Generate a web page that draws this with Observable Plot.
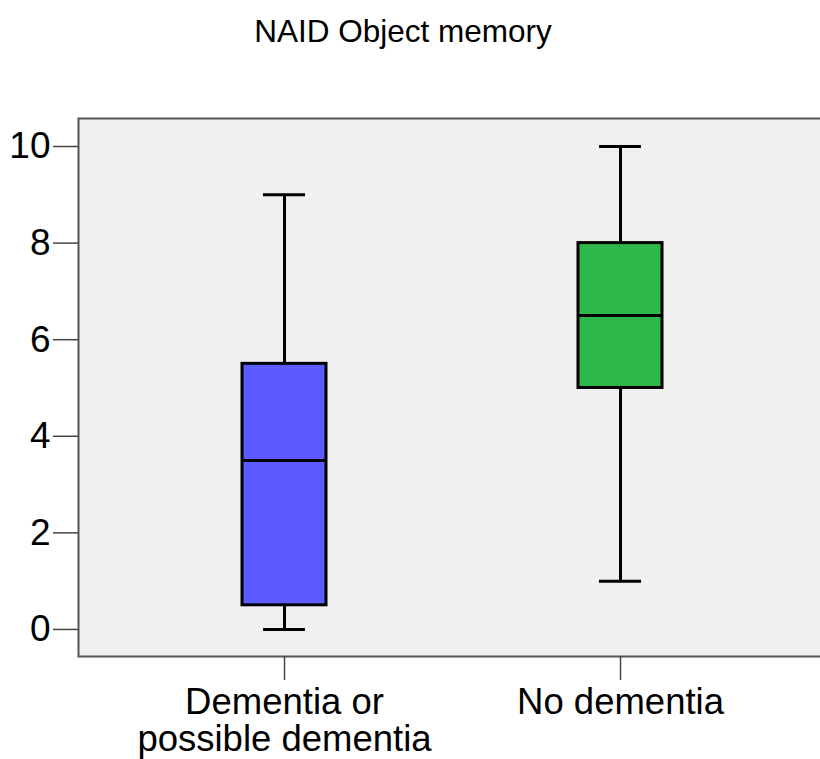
<!DOCTYPE html>
<html>
<head>
<meta charset="utf-8">
<script src="https://cdn.jsdelivr.net/npm/d3@7"></script>
<script src="https://cdn.jsdelivr.net/npm/@observablehq/plot@0.6"></script>
<style>
  html, body { margin: 0; padding: 0; background: #fff; overflow: hidden; width: 820px; height: 759px; }
  #title { height: 60px; line-height: 62px; width: 806px; text-align: center;
           font-family: "Liberation Sans", Arial, sans-serif; font-size: 31.5px; color: #000; }
</style>
</head>
<body>
<div id="title">NAID Object memory</div>
<div id="chart"></div>
<script>
const groups = ["Dementia or possible dementia", "No dementia"];
const groupLabels = ["Dementia or\npossible dementia", "No dementia"];
const whiskerLow = [0, 1];
const q1 = [0.5, 5];
const median = [3.5, 6.5];
const q3 = [5.5, 8];
const whiskerHigh = [9, 10];
const fills = ["#5b5bff", "#2db84a"];
const yTicks = [0, 2, 4, 6, 8, 10];

const data = groups.map((g, i) => ({
  group: g, lo: whiskerLow[i], q1: q1[i], med: median[i], q3: q3[i], hi: whiskerHigh[i], fill: fills[i]
}));

const plot = Plot.plot({
  width: 826,
  height: 699,
  marginLeft: 78,
  marginRight: 0,
  marginTop: 58,
  marginBottom: 103,
  style: { fontFamily: "'Liberation Sans', Arial, sans-serif", background: "#fff", maxWidth: "none", overflow: "visible" },
  x: { domain: groups, paddingInner: 0.75, paddingOuter: 0.488, label: null },
  y: { domain: [-0.56, 10.58], label: null },
  marks: [
    Plot.frame({ fill: "#f0f0f0", stroke: "#555", strokeWidth: 2 }),
    Plot.ruleX(data, { x: "group", y1: "lo", y2: "q1", stroke: "#000", strokeWidth: 3 }),
    Plot.ruleX(data, { x: "group", y1: "q3", y2: "hi", stroke: "#000", strokeWidth: 3 }),
    Plot.tickY(data, { x: "group", y: "lo", stroke: "#000", strokeWidth: 3, insetLeft: 21, insetRight: 21 }),
    Plot.tickY(data, { x: "group", y: "hi", stroke: "#000", strokeWidth: 3, insetLeft: 21, insetRight: 21 }),
    Plot.barY(data, { x: "group", y1: "q1", y2: "q3", fill: "fill", stroke: "#000", strokeWidth: 3 }),
    Plot.tickY(data, { x: "group", y: "med", stroke: "#000", strokeWidth: 3 }),
    Plot.axisY({ ticks: yTicks, tickSize: 25, tickPadding: 3, fontSize: 37, stroke: "#444", strokeWidth: 1.5, color: "#000", label: null }),
    Plot.axisX({ tickSize: 24, tickPadding: 8, fontSize: 36.5, lineHeight: 1.0, stroke: "#444", strokeWidth: 1.5, color: "#000", label: null,
      tickFormat: d => groupLabels[groups.indexOf(d)] })
  ]
});
plot.style.maxWidth = "none";
document.getElementById("chart").appendChild(plot);
</script>
</body>
</html>
